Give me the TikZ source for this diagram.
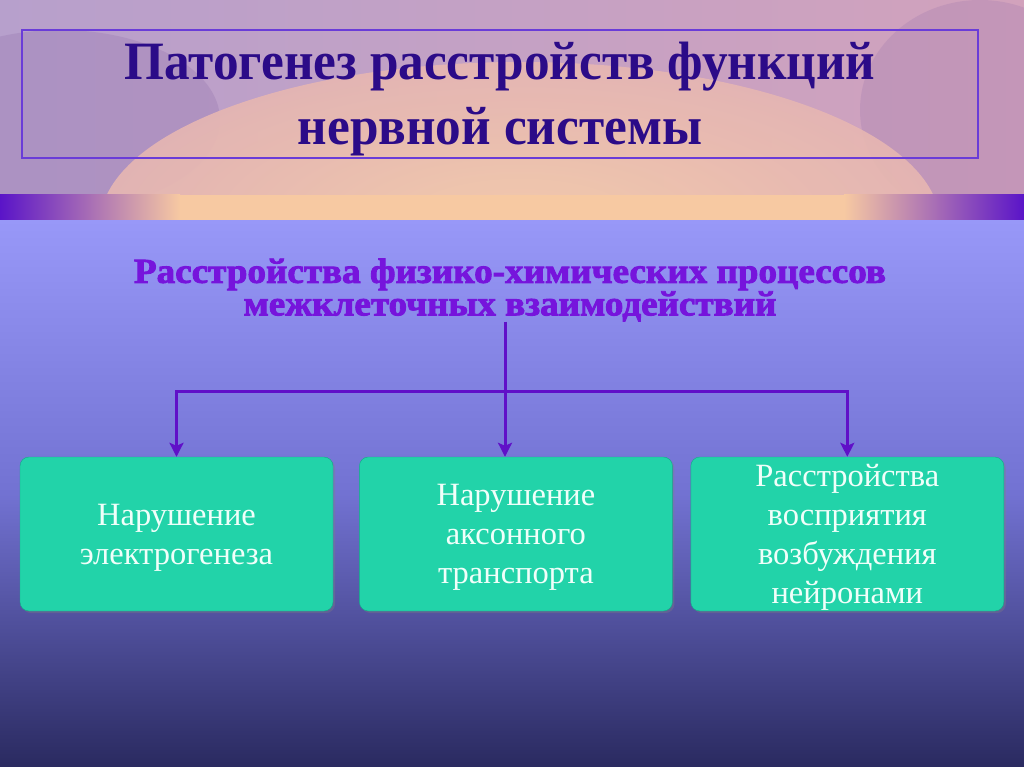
\documentclass[tikz,border=0pt]{standalone}
\usepackage{fontspec}
\setmainfont{Liberation Serif}
\newfontfamily\titlefont[FakeStretch=0.95]{Liberation Serif}
\newfontfamily\headfont[FakeStretch=1.06, FakeBold=2.5]{Liberation Serif}
\usepackage{tikz}
\usetikzlibrary{positioning, arrows.meta, shadows}
\definecolor{skyleft}{HTML}{B7A0CC}
\definecolor{skyright}{HTML}{D2A2BC}
\definecolor{cloud}{HTML}{8C6AA8}
\definecolor{sunpeach}{HTML}{F6CDAA}
\definecolor{sunrim}{HTML}{E6B6B2}
\definecolor{stripepurple}{HTML}{5A14C8}
\definecolor{stripepeach}{HTML}{F7C9A2}
\definecolor{bgtop}{HTML}{9898F8}
\definecolor{bgmid}{HTML}{7272D2}
\definecolor{bgbottom}{HTML}{2A2A60}
\definecolor{frameline}{HTML}{6A3CD8}
\definecolor{titleink}{HTML}{2B0B88}
\definecolor{headink}{HTML}{7614DC}
\definecolor{linkcol}{HTML}{6010C8}
\definecolor{boxfill}{HTML}{22D3A9}
\definecolor{boxedge}{HTML}{14A888}
\definecolor{boxtext}{HTML}{F0FFFA}
\tikzset{
  titleframe/.style={draw=frameline, line width=2.5pt,
                     minimum width=956pt, minimum height=128pt},
  titletext/.style={align=center, inner sep=0pt, text=titleink,
                    font=\titlefont\bfseries\fontsize{54}{65}\selectfont},
  subhead/.style={align=center, inner sep=0pt, text=headink,
                  font=\headfont\bfseries\fontsize{35}{27}\selectfont},
  box/.style={draw=boxedge, fill=boxfill, rounded corners=9pt,
              minimum width=313pt, minimum height=154pt,
              align=center, inner sep=0pt, text depth=0pt, text=boxtext,
              font=\fontsize{32.5}{39}\selectfont,
              drop shadow={opacity=0.35, shadow xshift=2pt, shadow yshift=-2pt}},
  arrow/.style={-{Stealth[length=14pt, width=14pt, inset=3pt]}, line width=3pt, draw=linkcol}
}

\begin{document}
\begin{tikzpicture}[x=1pt, y=-1pt, node distance=26pt]
    \useasboundingbox (0,0) rectangle (1024,767);
    \fill[top color=bgtop, bottom color=bgbottom, middle color=bgmid] (0,220) rectangle (1024,767);
    \fill[left color=skyleft, right color=skyright] (0,0) rectangle (1024,195);
    \begin{scope}
        \clip (0,0) rectangle (1024,195);
        \fill[cloud, opacity=.25] (60,120) ellipse [x radius=160, y radius=90];
        \fill[cloud, opacity=.2] (980,110) ellipse [x radius=120, y radius=110];
        \shade[inner color=sunpeach, outer color=sunrim, opacity=.92] (520,224) ellipse [x radius=420, y radius=162];
    \end{scope}
    \fill[left color=stripepurple, right color=stripepeach] (0,195) rectangle (180,220);
    \fill[stripepeach] (180,195) rectangle (844,220);
    \fill[left color=stripepeach, right color=stripepurple] (844,195) rectangle (1024,220);

    \node[titleframe] (frame) at (500,94) {};
    \node[titletext] (title) at (500,99) {Патогенез расстройств функций\\нервной системы};
    \node[subhead] (sub) at (510,290) {Расстройства физико-химических процессов\\межклеточных взаимодействий};

    \node[box] (elec) at (176.5,534) {Нарушение\\электрогенеза};
    \node[box, right=of elec] (axon) {Нарушение\\аксонного\\транспорта};
    \node[box, right=18pt of axon] (neur) {Расстройства\\восприятия\\возбуждения\\нейронами};

    \coordinate (split) at (505,391);
    \draw[arrow] (split |- sub.south) -- (split |- axon.north);
    \draw[arrow] (split) -| (elec);
    \draw[arrow] (split) -| (neur);
\end{tikzpicture}
\end{document}
